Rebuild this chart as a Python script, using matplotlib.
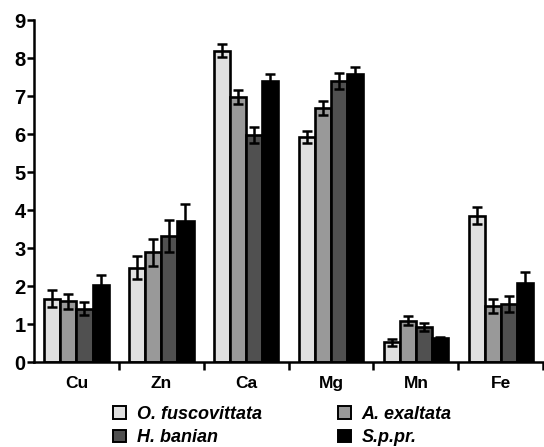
import numpy as np
import matplotlib
matplotlib.use("Agg")
import matplotlib.pyplot as plt
from matplotlib.patches import Patch

plt.rcParams['font.family'] = ['Liberation Sans', 'DejaVu Sans']

elements = ["Cu", "Zn", "Ca", "Mg", "Mn", "Fe"]
species = ["O. fuscovittata", "A. exaltata", "H. banian", "S.p.pr."]
colors = ["#e0e0e0", "#999999", "#505050", "#000000"]

o_fusc = [1.67, 2.48, 8.19, 5.93, 0.52, 3.85]
o_fusc_err = [0.22, 0.30, 0.17, 0.16, 0.09, 0.22]
a_exal = [1.60, 2.89, 6.97, 6.68, 1.09, 1.48]
a_exal_err = [0.20, 0.35, 0.19, 0.19, 0.12, 0.18]
h_ban = [1.40, 3.32, 5.97, 7.40, 0.92, 1.53]
h_ban_err = [0.17, 0.42, 0.21, 0.20, 0.11, 0.20]
s_ppr = [2.04, 3.70, 7.39, 7.59, 0.63, 2.09]
s_ppr_err = [0.26, 0.46, 0.19, 0.17, 0.03, 0.27]

series = [(o_fusc, o_fusc_err), (a_exal, a_exal_err),
          (h_ban, h_ban_err), (s_ppr, s_ppr_err)]

fig = plt.figure(figsize=(5.44, 4.47), dpi=100)
ax = fig.add_axes([0.0625, 0.19, 0.936, 0.765])

x = np.arange(len(elements)) + 0.5
w = 0.19
for i, ((vals, errs), c) in enumerate(zip(series, colors)):
    xs = x + (i - 1.5) * w
    ax.bar(xs, vals, width=w, color=c, edgecolor="black", linewidth=1.9,
           zorder=2)
    ax.errorbar(xs, vals, yerr=errs, fmt="none", ecolor="black",
                elinewidth=1.8, capsize=3.3, capthick=1.8, zorder=3)

ax.set_xlim(0, 6)
ax.set_ylim(0, 9)
ax.set_yticks(range(10))
ax.set_yticklabels([str(v) for v in range(10)], fontsize=14.5,
                   fontweight="heavy")
ax.set_xticks(x)
ax.set_xticklabels(elements, fontsize=12.5, fontweight="heavy")
ax.set_xticks(np.arange(1, 7), minor=True)
ax.tick_params(axis="x", which="major", length=0, pad=10)
ax.tick_params(axis="x", which="minor", length=6, width=1.8)
ax.tick_params(axis="y", length=5, width=1.8, pad=1)
for s in ["top", "right"]:
    ax.spines[s].set_visible(False)
for s in ["left", "bottom"]:
    ax.spines[s].set_linewidth(1.8)

# legend fills columns first, so reorder to get row-major layout
order = [0, 2, 1, 3]
handles = [Patch(facecolor=colors[i], edgecolor="black", linewidth=1.4)
           for i in order]
labels = [species[i] for i in order]
fig.legend(handles, labels, loc="lower left", bbox_to_anchor=(0.178, -0.035),
           ncol=2, frameon=False, handlelength=0.7, handleheight=0.7,
           handletextpad=0.6, columnspacing=4.25, labelspacing=0.35,
           prop={"size": 13, "weight": "bold", "style": "italic"})

fig.savefig("out.png", dpi=100)
